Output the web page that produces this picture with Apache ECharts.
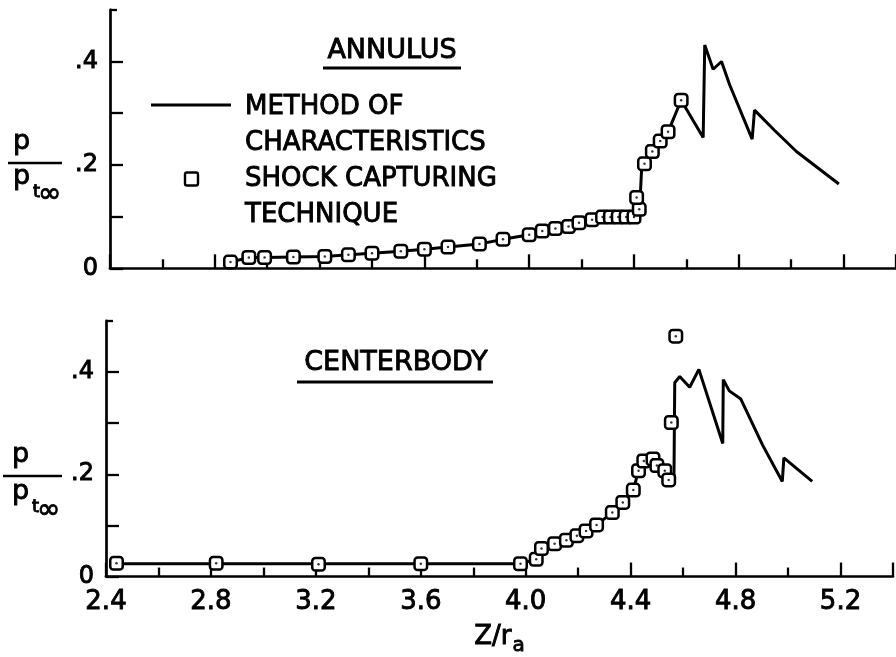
<!DOCTYPE html>
<html><head><meta charset="utf-8">
<script src="https://cdn.jsdelivr.net/npm/echarts@6/dist/echarts.min.js"></script>
<style>html,body{margin:0;padding:0;background:#fff}#c{width:896px;height:657px}</style>
</head><body><div id="c"></div>
<script>
const FONT = 'DejaVu Sans';
const xTickLabels = ['2.4','2.8','3.2','3.6','4.0','4.4','4.8','5.2'];
const yTickLabels = {'0.0':'0','0.2':'.2','0.4':'.4'};

// ANNULUS
const annulusSctZ = [2.86,2.93,2.99,3.10,3.22,3.31,3.40,3.51,3.60,3.69,3.81,3.90,4.00,4.05,4.10,4.15,4.19,4.24,4.28,4.31,4.34,4.37,4.40,4.42,4.41,4.44,4.47,4.50,4.53,4.58];
const annulusSctP = [0.012,0.021,0.021,0.022,0.023,0.026,0.029,0.033,0.037,0.041,0.047,0.056,0.065,0.072,0.077,0.081,0.088,0.094,0.099,0.099,0.099,0.099,0.099,0.114,0.137,0.202,0.226,0.246,0.264,0.325];
const annulusMocZ = [2.86,2.93,2.99,3.10,3.22,3.31,3.40,3.51,3.60,3.69,3.81,3.90,4.00,4.05,4.10,4.15,4.19,4.24,4.28,4.42,4.43,4.47,4.50,4.53,4.58,4.664,4.670,4.702,4.734,4.765,4.851,4.860,4.936,5.020,5.182];
const annulusMocP = [0.012,0.021,0.021,0.022,0.023,0.026,0.029,0.033,0.037,0.041,0.047,0.056,0.065,0.072,0.077,0.081,0.088,0.094,0.099,0.099,0.202,0.226,0.246,0.264,0.325,0.253,0.432,0.385,0.400,0.355,0.250,0.306,0.267,0.226,0.163];

// CENTERBODY
const centerSctZ = [2.44,2.82,3.21,3.60,3.98,4.04,4.06,4.11,4.155,4.195,4.23,4.27,4.33,4.37,4.41,4.43,4.45,4.485,4.50,4.53,4.545,4.555,4.572];
const centerSctP = [0.026,0.026,0.024,0.025,0.025,0.034,0.055,0.064,0.071,0.080,0.089,0.101,0.125,0.145,0.169,0.207,0.226,0.230,0.217,0.207,0.189,0.301,0.470];
const centerMocZ = [2.44,3.98,4.04,4.06,4.11,4.155,4.195,4.23,4.27,4.33,4.37,4.41,4.43,4.45,4.485,4.50,4.53,4.545,4.565,4.568,4.587,4.625,4.66,4.751,4.753,4.776,4.82,4.903,4.978,4.984,5.092];
const centerMocP = [0.025,0.025,0.034,0.055,0.064,0.071,0.080,0.089,0.101,0.125,0.145,0.169,0.207,0.226,0.230,0.217,0.207,0.189,0.189,0.379,0.391,0.370,0.405,0.260,0.385,0.363,0.347,0.257,0.186,0.232,0.186];

const zip = (a, b) => a.map((v, i) => [v, b[i]]);
const K = '#000';
const TB = 0.9; // text thickening

function xAxisCfg(gridIndex, showLabels) {
  return {
    type: 'value', gridIndex, min: 2.4, max: 5.4, interval: 0.4,
    axisLine: {show: true, onZero: false, lineStyle: {color: K, width: 2.7}},
    axisTick: {show: true, inside: true, length: 14, lineStyle: {color: K, width: 2.3}},
    minorTick: {show: true, splitNumber: 2, length: 9, lineStyle: {color: K, width: 2.3}},
    splitLine: {show: false}, minorSplitLine: {show: false},
    axisLabel: {show: showLabels, margin: 13, color: K, fontFamily: FONT, fontSize: 26,
      textBorderColor: K, textBorderWidth: TB,
      formatter: v => { const s = v.toFixed(1); return xTickLabels.includes(s) ? s : ''; }},
    name: showLabels ? '{a|Z/r}{b|a}' : '',
    nameLocation: 'middle', nameGap: 43,
    nameTextStyle: {rich: {
      a: {fontSize: 26, fontFamily: FONT, color: K, textBorderColor: K, textBorderWidth: TB},
      b: {fontSize: 20, fontFamily: FONT, color: K, textBorderColor: K, textBorderWidth: TB, padding: [16, 0, 0, 1]}
    }}
  };
}
function yAxisCfg(gridIndex) {
  return {
    type: 'value', gridIndex, position: 'left', min: 0, max: 0.5, interval: 0.1,
    axisLine: {show: true, onZero: false, lineStyle: {color: K, width: 2.7}},
    axisTick: {show: true, inside: true, length: 13, customValues: [0, 0.1, 0.2, 0.3, 0.4], lineStyle: {color: K, width: 2.3}},
    splitLine: {show: false},
    axisLabel: {margin: 12, color: K, fontFamily: FONT, fontSize: 24, padding: [8, 0, 0, 0],
      textBorderColor: K, textBorderWidth: TB,
      formatter: v => yTickLabels[v.toFixed(1)] || ''}
  };
}
function yStubCfg(gridIndex) {
  return {
    type: 'value', gridIndex, position: 'left', min: 0, max: 0.5, interval: 0.5,
    axisLine: {show: false}, axisLabel: {show: false}, splitLine: {show: false},
    axisTick: {show: true, inside: true, length: 7, customValues: [0.5], lineStyle: {color: K, width: 2.3}}
  };
}
function lineSeries(xi, yi, data) {
  return {type: 'line', xAxisIndex: xi, yAxisIndex: yi, data, symbol: 'none', z: 2,
    lineStyle: {color: K, width: 3}, silent: true, animation: false};
}
function sqSeries(xi, yi, data) {
  return {type: 'scatter', xAxisIndex: xi, yAxisIndex: yi, data, symbol: 'roundRect', symbolSize: 12.5, z: 3,
    itemStyle: {color: '#fff', borderColor: K, borderWidth: 2.5, opacity: 1}, silent: true, animation: false};
}
function dotSeries(xi, yi, data) {
  return {type: 'scatter', xAxisIndex: xi, yAxisIndex: yi, data, symbol: 'circle', symbolSize: 2.5, z: 4,
    itemStyle: {color: K}, silent: true, animation: false};
}

const txt = (x, y, text, size, align) => ({type: 'text', x, y, silent: true,
  style: {text, fill: K, stroke: K, lineWidth: TB, font: `${size}px "${FONT}"`, textAlign: align || 'left', textVerticalAlign: 'middle'}});
const hline = (x1, x2, y, w) => ({type: 'line', silent: true, shape: {x1, y1: y, x2, y2: y}, style: {stroke: K, lineWidth: w}});

const graphics = [
  // titles
  txt(392, 51, 'ANNULUS', 27, 'center'), hline(323, 461, 68, 3),
  txt(396, 363, 'CENTERBODY', 27, 'center'), hline(297, 493, 382, 3),
  // legend
  hline(151, 231, 105, 3),
  {type: 'rect', silent: true, shape: {x: 185, y: 172.5, width: 13, height: 13, r: 2}, style: {fill: '#fff', stroke: K, lineWidth: 2.4}},
  txt(245, 107, 'METHOD OF', 26), txt(245, 143, 'CHARACTERISTICS', 26),
  txt(245, 179, 'SHOCK CAPTURING', 26), txt(245, 215, 'TECHNIQUE', 26),
  // y-axis names (fractions)
  txt(13, 141.5, 'p', 27), hline(8, 62, 163, 2.6), txt(13, 177, 'p', 27), txt(33, 192, 't', 18), txt(38, 195, '∞', 28),
  txt(12, 455, 'p', 27), hline(3, 62, 476, 2.6), txt(12, 492, 'p', 27), txt(32, 507, 't', 18), txt(37, 511, '∞', 28)
];

const option = {
  backgroundColor: '#fff',
  animation: false,
  grid: [
    {left: 110, top: 9.8, width: 792, height: 258.5, containLabel: false},
    {left: 106, top: 320.8, width: 792, height: 258.5, containLabel: false}
  ],
  xAxis: [xAxisCfg(0, false), xAxisCfg(1, true)],
  yAxis: [yAxisCfg(0), yStubCfg(0), yAxisCfg(1), yStubCfg(1)],
  series: [
    lineSeries(0, 0, zip(annulusMocZ, annulusMocP)),
    sqSeries(0, 0, zip(annulusSctZ, annulusSctP)),
    dotSeries(0, 0, zip(annulusSctZ, annulusSctP)),
    lineSeries(1, 2, zip(centerMocZ, centerMocP)),
    sqSeries(1, 2, zip(centerSctZ, centerSctP)),
    dotSeries(1, 2, zip(centerSctZ, centerSctP))
  ],
  graphic: graphics
};
const chart = echarts.init(document.getElementById('c'), null, {renderer: 'canvas'});
chart.setOption(option);
</script>
</body></html>
